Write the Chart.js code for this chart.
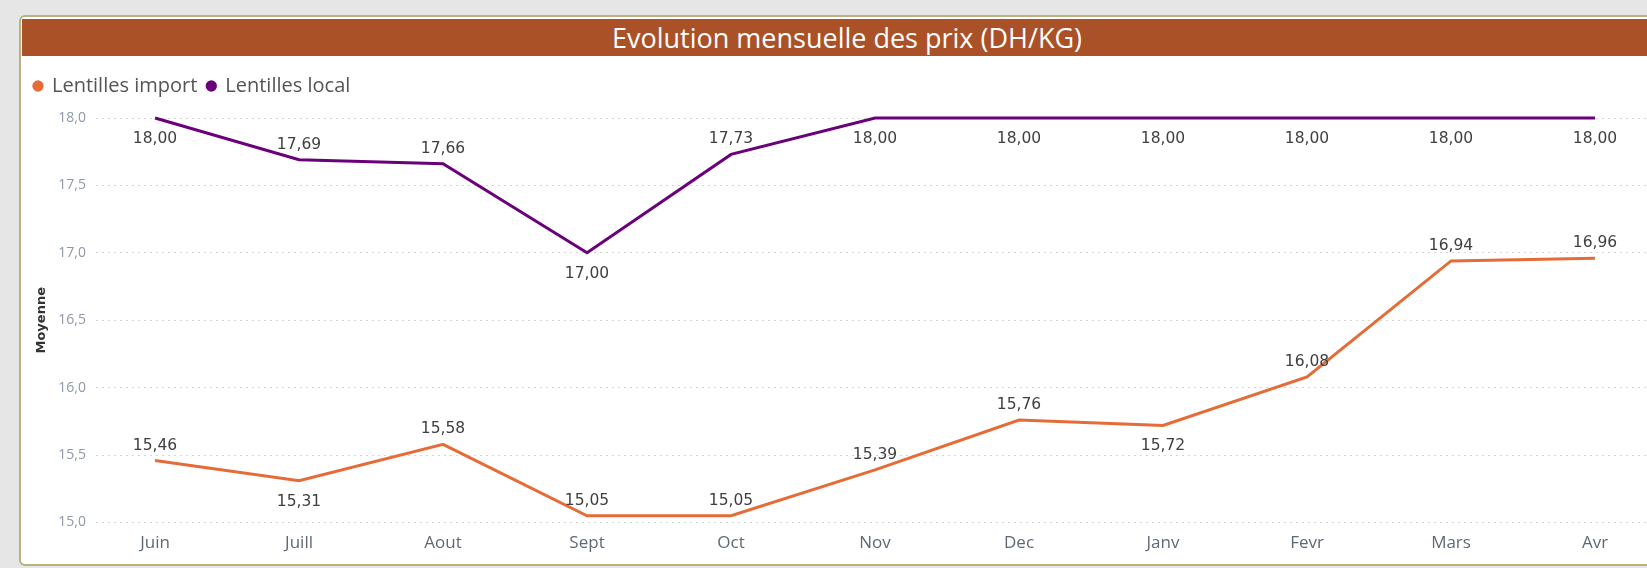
<!DOCTYPE html>
<html>
<head>
<meta charset="utf-8">
<script src="https://cdn.jsdelivr.net/npm/chart.js@4/dist/chart.umd.min.js"></script>
<style>
  html, body { margin:0; padding:0; width:1647px; height:568px; overflow:hidden; background:#e6e6e6; }
  #frame { position:absolute; left:19px; top:15px; width:1660px; height:547px; background:#fff;
           border:2px solid #bcaf80; border-radius:6px; box-sizing:content-box; }
  #titlebar { position:absolute; left:22px; top:19px; width:1625px; height:37px; background:#ab5127;
              color:#fff; font-family:"Open Sans", sans-serif; font-size:27px; line-height:37px;
              text-align:center; box-sizing:border-box; padding-left:25px; }
  #c { position:absolute; left:22px; top:57px; }
</style>
</head>
<body>
<div id="frame"></div>
<div id="titlebar">Evolution mensuelle des prix (DH/KG)</div>
<canvas id="c" width="1625" height="505"></canvas>
<script>
const categories = ['Juin','Juill','Aout','Sept','Oct','Nov','Dec','Janv','Fevr','Mars','Avr'];
const importValues = [15.46, 15.31, 15.58, 15.05, 15.05, 15.39, 15.76, 15.72, 16.08, 16.94, 16.96];
const localValues  = [18.00, 17.69, 17.66, 17.00, 17.73, 18.00, 18.00, 18.00, 18.00, 18.00, 18.00];
const yTickValues  = [15.0, 15.5, 16.0, 16.5, 17.0, 17.5, 18.0];
const seriesNames  = ['Lentilles import', 'Lentilles local'];
// label placement: true = label under the point
const importLabelBelow = [false, true, false, false, false, false, false, true, false, false, false];
const localLabelBelow  = [true, false, false, true, false, true, true, true, true, true, true];

const COLORS = ['#e66c37', '#6b007b'];
const fmt = (v, d) => v.toFixed(d).replace('.', ',');
const toPoints = arr => arr.map((v, i) => ({x: i, y: v}));

const dataLabels = {
  id: 'dataLabels',
  afterDatasetsDraw(chart) {
    const ctx = chart.ctx;
    const belowSets = [importLabelBelow, localLabelBelow];
    ctx.save();
    ctx.font = '15.5px "DejaVu Sans"';
    ctx.fillStyle = '#404040';
    ctx.textAlign = 'center';
    ctx.textBaseline = 'middle';
    chart.data.datasets.forEach((ds, di) => {
      const meta = chart.getDatasetMeta(di);
      meta.data.forEach((pt, i) => {
        const below = belowSets[di][i];
        ctx.fillText(fmt(ds.data[i].y, 2), pt.x, pt.y + (below ? 21 : -15));
      });
    });
    ctx.restore();
  }
};

new Chart(document.getElementById('c'), {
  type: 'line',
  data: {
    datasets: [
      { label: seriesNames[0], data: toPoints(importValues), borderColor: COLORS[0], backgroundColor: COLORS[0],
        pointBackgroundColor: COLORS[0], pointBorderWidth: 0, borderWidth: 3, pointRadius: 0, tension: 0,
        clip: false, xAxisID: 'x', yAxisID: 'y' },
      { label: seriesNames[1], data: toPoints(localValues), borderColor: COLORS[1], backgroundColor: COLORS[1],
        pointBackgroundColor: COLORS[1], pointBorderWidth: 0, borderWidth: 3, pointRadius: 0, tension: 0,
        clip: false, xAxisID: 'x', yAxisID: 'y' }
    ]
  },
  options: {
    responsive: false,
    animation: false,
    devicePixelRatio: 1,
    layout: { padding: { left: 2, top: 9, right: 0, bottom: 0 } },
    plugins: {
      legend: {
        display: true, position: 'top', align: 'start',
        labels: { usePointStyle: true, pointStyle: 'circle', boxWidth: 8, boxHeight: 8, padding: 10,
                  color: '#555555', font: { family: '"Open Sans"', size: 20 } }
      },
      title: { display: false },
      tooltip: { enabled: false }
    },
    scales: {
      x: {
        type: 'linear', position: 'bottom', min: -0.41, max: 10.361,
        afterBuildTicks: s => { s.ticks = categories.map((c, i) => ({ value: i })); },
        afterFit: s => { s.height = 39.5; },
        grid: { display: false, drawTicks: false },
        border: { display: false },
        ticks: { autoSkip: false, maxRotation: 0, padding: 10, color: '#5f6975',
                 font: { family: '"Open Sans"', size: 17 },
                 callback: v => categories[v] }
      },
      spacer: {
        type: 'linear', axis: 'x', position: 'top', display: true,
        grid: { display: false, drawTicks: false }, border: { display: false },
        ticks: { display: false },
        afterFit: s => { s.height = 12; }
      },
      y: {
        type: 'linear', position: 'left', min: 15, max: 18,
        afterBuildTicks: s => { s.ticks = yTickValues.map(v => ({ value: v })); },
        afterFit: s => { s.width = 72; },
        grid: { color: '#d4d4d4', lineWidth: 1, drawTicks: false },
        border: { display: false, dash: [2, 4] },
        ticks: { padding: 10, color: '#8e99a6', font: { family: '"Open Sans"', size: 14 },
                 callback: v => fmt(v, 1) },
        title: { display: true, text: 'Moyenne', color: '#333333', padding: { top: 9.6, bottom: 0 },
                 font: { family: '"DejaVu Sans"', size: 13, weight: 'bold' } }
      }
    }
  },
  plugins: [dataLabels]
});
</script>
</body>
</html>
